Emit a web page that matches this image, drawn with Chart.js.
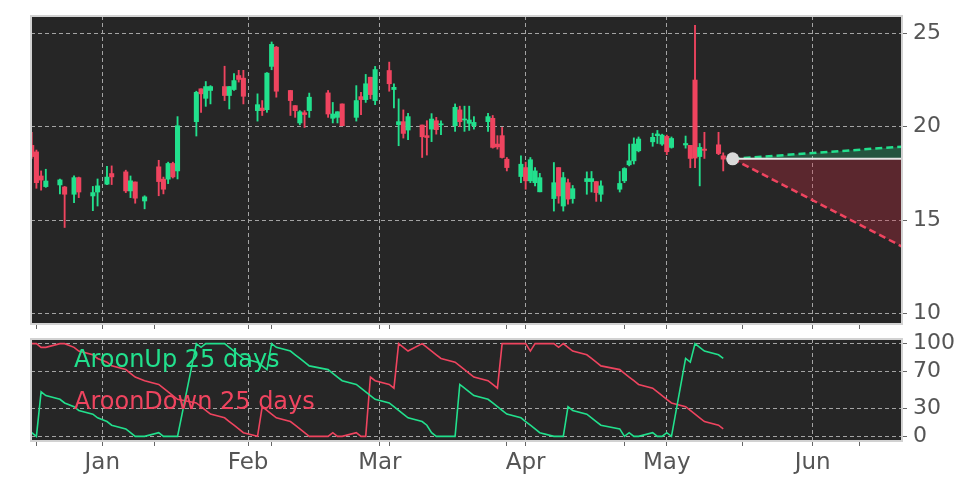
<!DOCTYPE html>
<html>
<head>
<meta charset="utf-8">
<script src="https://cdn.jsdelivr.net/npm/chart.js@4"></script>
<style>
  body { margin: 0; background: #fff; width: 972px; height: 486px; overflow: hidden; position: relative; font-family: 'DejaVu Sans', sans-serif; }
  canvas { position: absolute; left: 0; }
  #price { top: 0; width: 972px; height: 330px; }
  #aroon { top: 330px; width: 972px; height: 156px; }
  .lab { position: absolute; left: 74px; font-size: 24px; line-height: 1; white-space: nowrap; }
</style>
</head>
<body>
<canvas id="price" width="972" height="330"></canvas>
<canvas id="aroon" width="972" height="156"></canvas>
<div class="lab" style="top:347px;color:#22e08d">AroonUp 25 days</div>
<div class="lab" style="top:389px;color:#ef445f">AroonDown 25 days</div>
<script>
// trading days
const dates = [
  '2024-12-17','2024-12-18','2024-12-19','2024-12-20','2024-12-23','2024-12-24','2024-12-26','2024-12-27','2024-12-30','2024-12-31',
  '2025-01-02','2025-01-03','2025-01-06','2025-01-07','2025-01-08','2025-01-10','2025-01-13','2025-01-14','2025-01-15','2025-01-16',
  '2025-01-17','2025-01-21','2025-01-22','2025-01-23','2025-01-24','2025-01-27','2025-01-28','2025-01-29','2025-01-30','2025-01-31',
  '2025-02-03','2025-02-04','2025-02-05','2025-02-06','2025-02-07','2025-02-10','2025-02-11','2025-02-12','2025-02-13','2025-02-14',
  '2025-02-18','2025-02-19','2025-02-20','2025-02-21','2025-02-24','2025-02-25','2025-02-26','2025-02-27','2025-02-28','2025-03-03',
  '2025-03-04','2025-03-05','2025-03-06','2025-03-07','2025-03-10','2025-03-11','2025-03-12','2025-03-13','2025-03-14','2025-03-17',
  '2025-03-18','2025-03-19','2025-03-20','2025-03-21','2025-03-24','2025-03-25','2025-03-26','2025-03-27','2025-03-28','2025-03-31',
  '2025-04-01','2025-04-02','2025-04-03','2025-04-04','2025-04-07','2025-04-08','2025-04-09','2025-04-10','2025-04-11','2025-04-14',
  '2025-04-15','2025-04-16','2025-04-17','2025-04-21','2025-04-22','2025-04-23','2025-04-24','2025-04-25','2025-04-28','2025-04-29',
  '2025-04-30','2025-05-01','2025-05-02','2025-05-05','2025-05-06','2025-05-07','2025-05-08','2025-05-09','2025-05-12','2025-05-13'
];
const open = [
  19.0, 18.65, 17.36, 16.79, 16.88, 16.77, 16.38, 17.27, 16.29, 16.5,
  16.92, 17.49, 17.58, 16.56, 17.04, 16.02, 17.85, 17.19, 17.19, 18.03,
  17.63, 20.27, 22.03, 21.52, 21.94, 22.15, 21.67, 21.99, 22.74, 22.6,
  20.86, 21.0, 20.91, 23.23, 24.26, 21.94, 21.13, 20.2, 20.75, 20.86,
  21.81, 20.45, 20.5, 21.22, 20.5, 21.61, 21.45, 22.65, 21.4, 23.01,
  21.99, 20.11, 20.27, 19.82, 20.09, 19.52, 19.87, 20.32, 20.1, 20.05,
  20.9, 20.36, 20.18, 20.05, 20.27, 20.45, 19.07, 19.52, 18.26, 17.33,
  17.81, 17.1, 17.0, 16.51, 16.15, 17.81, 15.75, 17.0, 16.15, 17.06,
  17.06, 17.06, 16.38, 16.65, 17.1, 17.96, 18.17, 18.71, 19.19, 19.52,
  19.07, 19.48, 18.89, 19.02, 19.0, 22.5, 18.4, 18.8, 19.03, 18.44
];
const close = [
  18.4, 17.0, 17.14, 17.09, 17.15, 16.38, 17.27, 16.5, 16.47, 16.83,
  17.3, 17.31, 16.56, 17.1, 16.17, 16.24, 17.06, 16.65, 18.03, 17.31,
  20.05, 21.84, 21.76, 22.15, 22.15, 21.67, 22.15, 22.47, 22.53, 21.63,
  21.18, 20.86, 22.87, 24.41, 21.9, 21.4, 20.86, 20.8, 20.65, 21.58,
  20.68, 20.68, 20.8, 20.05, 21.4, 21.45, 22.3, 21.72, 23.06, 22.3,
  22.11, 20.27, 19.64, 20.54, 19.46, 19.42, 20.41, 19.84, 20.14, 21.04,
  20.27, 20.41, 20.36, 20.23, 20.54, 18.89, 18.92, 18.35, 17.81, 17.99,
  17.1, 18.23, 17.63, 17.27, 17.0, 16.29, 17.27, 16.12, 16.68, 17.22,
  17.22, 16.47, 16.83, 16.96, 17.76, 18.17, 19.07, 19.34, 19.43, 19.61,
  19.55, 18.66, 19.37, 19.1, 18.3, 18.32, 18.89, 18.73, 18.56, 18.26
];
const high = [
  19.7, 18.75, 17.63, 17.72, 17.2, 16.8, 17.37, 17.3, 16.8, 17.2,
  17.88, 17.9, 17.67, 17.36, 17.04, 16.3, 18.2, 17.3, 18.1, 18.1,
  20.54, 21.9, 22.03, 22.42, 22.2, 23.24, 22.15, 22.84, 23.02, 23.02,
  21.76, 21.4, 22.9, 24.54, 24.3, 21.95, 21.13, 20.86, 20.86, 21.8,
  21.94, 21.3, 20.8, 21.22, 22.2, 21.84, 22.8, 22.65, 23.23, 23.46,
  22.3, 21.49, 20.9, 20.72, 20.09, 20.32, 20.7, 20.5, 20.32, 21.22,
  21.1, 21.1, 21.1, 20.54, 20.72, 20.6, 19.52, 19.96, 18.35, 18.44,
  18.1, 18.35, 17.81, 17.5, 18.08, 17.81, 17.55, 17.2, 16.85, 17.58,
  17.6, 17.06, 17.1, 17.6, 17.8, 19.07, 19.4, 19.45, 19.65, 19.8,
  19.6, 19.55, 19.45, 19.5, 19.0, 25.43, 19.1, 19.7, 19.7, 18.6
];
const low = [
  18.3, 16.7, 16.6, 16.75, 16.4, 14.6, 15.93, 16.2, 15.5, 15.75,
  16.9, 16.9, 16.47, 16.2, 15.9, 15.6, 16.3, 16.4, 16.95, 17.25,
  17.2, 19.5, 20.77, 21.09, 21.22, 21.4, 20.95, 21.94, 22.39, 21.22,
  20.3, 20.6, 20.77, 23.05, 21.58, 20.6, 20.5, 20.1, 19.96, 20.5,
  20.5, 20.2, 20.2, 20.05, 20.3, 20.65, 21.3, 21.49, 21.18, 21.9,
  21.0, 18.98, 19.39, 19.3, 18.35, 18.48, 19.2, 19.6, 19.57, 19.75,
  20.0, 19.75, 19.8, 19.87, 19.75, 18.85, 18.8, 18.32, 17.63, 17.0,
  16.65, 17.0, 16.83, 16.51, 15.48, 15.9, 15.48, 15.85, 15.9, 16.38,
  16.5, 16.0, 16.0, 16.5, 17.0, 17.9, 18.0, 18.65, 18.95, 19.1,
  19.0, 18.5, 18.85, 18.85, 17.8, 17.8, 16.83, 18.3, 18.5, 17.63
];
const aroonUp = [
  4, 0, 48, 44, 40, 36, 32, 28, 24, 20,
  16, 12, 8, 4, 0, 0, 4, 0, 0, 0,
  0, 100, 96, 100, 100, 100, 96, 92, 88, 84,
  80, 76, 72, 100, 96, 92, 88, 84, 80, 76,
  72, 68, 64, 60, 56, 52, 48, 44, 40, 36,
  32, 28, 24, 20, 16, 12, 4, 0, 0, 0,
  56, 52, 48, 44, 40, 36, 32, 28, 24, 20,
  16, 12, 8, 4, 0, 0, 0, 32, 28, 24,
  20, 16, 12, 8, 0, 4, 0, 0, 4, 0,
  0, 4, 0, 84, 80, 100, 96, 92, 88, 84
];
const aroonDown = [
  100, 100, 96, 96, 100, 100, 96, 92, 88, 84,
  80, 76, 72, 68, 64, 60, 56, 52, 48, 44,
  40, 36, 32, 28, 24, 20, 16, 12, 8, 4,
  0, 32, 28, 24, 20, 16, 12, 8, 4, 0,
  0, 4, 0, 0, 4, 0, 0, 64, 60, 56,
  52, 100, 96, 92, 100, 96, 92, 88, 84, 80,
  76, 72, 68, 64, 60, 56, 52, 100, 100, 100,
  100, 92, 100, 100, 100, 96, 100, 96, 92, 88,
  84, 80, 76, 72, 68, 64, 60, 56, 52, 48,
  44, 40, 36, 32, 28, 24, 20, 16, 12, 8
];
// forecast from last price
const forecastDates = ['2025-05-15', '2025-06-20'];
const forecastMid = [18.28, 18.28];
const forecastHigh = [18.28, 18.93];
const forecastLow = [18.28, 13.58];

const monthDates = ['2025-01-01','2025-02-01','2025-03-01','2025-04-01','2025-05-01','2025-06-01'];
const monthLabels = ['Jan','Feb','Mar','Apr','May','Jun'];
const minorDates = ['2024-12-18','2025-01-12','2025-02-06','2025-03-03','2025-03-28','2025-04-22','2025-05-17','2025-06-11'];
const priceTicks = [10, 15, 20, 25];
const aroonTicks = [0, 30, 70, 100];

const GREEN = '#22e08d';
const RED = '#ef445f';
const GRID = '#a4a4a4';
const TXT = '#555555';

function dayOf(s) {
  const [y, m, d] = s.split('-').map(Number);
  return (Date.UTC(y, m - 1, d) - Date.UTC(2025, 0, 1)) / 86400000;
}
const X_MIN = dayOf('2024-12-17') - 0.15;
const X_MAX = dayOf('2025-06-20');
const monthDays = monthDates.map(dayOf);
const tickDays = monthDays.concat(minorDates.map(dayOf));

Chart.defaults.font.family = "'DejaVu Sans', sans-serif";
Chart.defaults.animation = false;

const panel = {
  id: 'panel',
  beforeDraw(chart) {
    const { ctx, chartArea: a } = chart;
    ctx.save();
    ctx.fillStyle = '#262626';
    ctx.fillRect(a.left, a.top, a.right - a.left, a.bottom - a.top);
    ctx.restore();
  },
  afterDraw(chart) {
    const { ctx, chartArea: a } = chart;
    ctx.save();
    ctx.strokeStyle = '#d2d2d2';
    ctx.lineWidth = 2;
    ctx.strokeRect(a.left, a.top, a.right - a.left, a.bottom - a.top);
    ctx.restore();
  }
};

// fixed axis sizes, no label overflow padding
function noPad(s) {
  s.paddingTop = 0; s.paddingBottom = 0; s.paddingLeft = 0; s.paddingRight = 0;
}

function xAxis(withLabels, h) {
  return {
    type: 'linear',
    min: X_MIN,
    max: X_MAX,
    offset: false,
    afterBuildTicks: s => { s.ticks = tickDays.map(v => ({ value: v })); },
    afterFit: s => { s.height = h; noPad(s); },
    ticks: {
      autoSkip: false,
      maxRotation: 0,
      padding: 3,
      color: TXT,
      font: { size: 23 },
      callback: v => {
        const i = monthDays.indexOf(v);
        return withLabels && i >= 0 ? monthLabels[i] : '';
      }
    },
    grid: {
      offset: false,
      color: c => (c.tick && monthDays.includes(c.tick.value)) ? GRID : 'rgba(0,0,0,0)',
      tickColor: '#666',
      tickLength: 5,
      lineWidth: 1
    },
    border: { display: false, dash: [4, 3] }
  };
}

function yAxis(min, max, ticks) {
  return {
    position: 'right',
    min: min,
    max: max,
    afterBuildTicks: s => { s.ticks = ticks.map(v => ({ value: v })); },
    afterFit: s => { s.width = 70; noPad(s); },
    ticks: { color: TXT, font: { size: 22 }, padding: 6 },
    grid: { color: GRID, tickColor: '#666', tickLength: 5, lineWidth: 1 },
    border: { display: false, dash: [4, 3] }
  };
}

const candleColor = dates.map((d, i) => close[i] >= open[i] ? GREEN : RED);
const fc = (vals) => forecastDates.map((d, i) => ({ x: dayOf(d), y: vals[i] }));

new Chart(document.getElementById('price'), {
  type: 'bar',
  data: {
    datasets: [
      {
        type: 'bar',
        data: dates.map((d, i) => ({ x: dayOf(d), y: [low[i], high[i]] })),
        backgroundColor: candleColor,
        barThickness: 1.2,
        grouped: false,
        order: 5
      },
      {
        type: 'bar',
        data: dates.map((d, i) => ({ x: dayOf(d), y: [open[i], close[i]] })),
        backgroundColor: candleColor,
        barThickness: 4.4,
        minBarLength: 1,
        grouped: false,
        order: 4
      },
      {
        type: 'line',
        data: fc(forecastMid),
        borderColor: '#e6e6e6',
        borderWidth: 2,
        pointRadius: 0,
        fill: false,
        order: 2
      },
      {
        type: 'line',
        data: fc(forecastHigh),
        borderColor: GREEN,
        borderWidth: 2.5,
        borderDash: [7, 4],
        pointRadius: 0,
        fill: 2,
        backgroundColor: 'rgba(34,224,141,0.25)',
        order: 3
      },
      {
        type: 'line',
        data: fc(forecastLow),
        borderColor: RED,
        borderWidth: 2.5,
        borderDash: [7, 4],
        pointRadius: 0,
        fill: 2,
        backgroundColor: 'rgba(205,45,65,0.32)',
        order: 3
      },
      {
        type: 'line',
        data: fc(forecastMid).slice(0, 1),
        showLine: false,
        pointRadius: 6.5,
        pointBackgroundColor: '#d9d9d9',
        pointBorderWidth: 0,
        order: 0
      }
    ]
  },
  options: {
    responsive: false,
    layout: { padding: { left: 31, top: 16, right: 0, bottom: 0 }, autoPadding: false },
    plugins: { legend: { display: false }, tooltip: { enabled: false } },
    scales: {
      x: xAxis(false, 6),
      y: yAxis(9.43, 25.93, priceTicks)
    }
  },
  plugins: [panel]
});

new Chart(document.getElementById('aroon'), {
  type: 'line',
  data: {
    datasets: [
      {
        data: dates.map((d, i) => ({ x: dayOf(d), y: aroonUp[i] })),
        borderColor: GREEN,
        borderWidth: 1.6,
        pointRadius: 0,
        tension: 0
      },
      {
        data: dates.map((d, i) => ({ x: dayOf(d), y: aroonDown[i] })),
        borderColor: RED,
        borderWidth: 1.6,
        pointRadius: 0,
        tension: 0
      }
    ]
  },
  options: {
    responsive: false,
    layout: { padding: { left: 31, top: 9, right: 0, bottom: 0 }, autoPadding: false },
    plugins: { legend: { display: false }, tooltip: { enabled: false } },
    scales: {
      x: xAxis(true, 45),
      y: yAxis(-5, 105, aroonTicks)
    }
  },
  plugins: [panel]
});
</script>
</body>
</html>
